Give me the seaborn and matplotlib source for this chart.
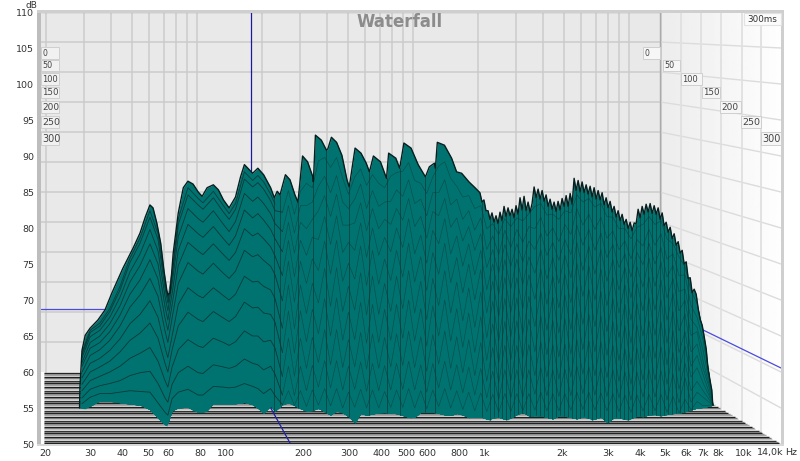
import numpy as np
import seaborn as sns
import matplotlib
matplotlib.use("Agg")
import matplotlib.pyplot as plt
from matplotlib.patches import Polygon, Rectangle

# --- values (Hz on the bottom axis, dB on the left axis) ---
db_ticks = [50, 55, 60, 65, 70, 75, 80, 85, 90, 95, 100, 105, 110]
freq_ticks = [20, 30, 40, 50, 60, 80, 100, 200, 300, 400, 500, 600, 800, 1000,
              2000, 3000, 4000, 5000, 6000, 7000, 8000, 10000]
freq_labels = ["20", "30", "40", "50", "60", "80", "100", "200", "300", "400", "500", "600", "800", "1k",
               "2k", "3k", "4k", "5k", "6k", "7k", "8k", "10k"]
grid_freqs = [20, 30, 40, 50, 60, 70, 80, 90, 100, 200, 300, 400, 500, 600, 700, 800, 900,
              1000, 2000, 3000, 4000, 5000, 6000, 7000, 8000, 9000, 10000, 14000]
time_labels = ["0", "50", "100", "150", "200", "250", "300"]

# outline of the first slice, the one that makes the top edge
top_freq = [27.2, 27.3, 27.5, 27.8, 28.6, 29.9, 32.0, 34.1, 36.3, 40, 43.8, 46.6, 48.8, 50.9, 52.3, 54.1, 56.0,
            57.6, 59.1, 59.7, 60.9, 62.6, 65.5, 68.5, 71.4, 74.7, 78.2, 81.0, 84.7, 89.5, 93.6, 97.9, 103, 109,
            114, 118, 122.5, 127, 133, 140, 149, 154, 158, 162, 170, 177, 185, 190, 198, 207, 217, 218, 222, 234,
            245, 248, 256, 268, 281, 294, 300, 316, 333, 349, 359, 372, 396, 418, 426, 454, 470, 488, 520, 554,
            591, 612, 640, 646, 657, 700, 746, 780, 816, 871, 919,
            960, 978, 995, 1013, 1032, 1050, 1069, 1088, 1108, 1128, 1148, 1169, 1190, 1211, 1233, 1255, 1278,
            1301, 1324, 1348, 1372, 1397, 1422, 1448, 1474, 1500, 1527, 1555, 1583, 1611, 1640, 1670, 1700, 1730,
            1761, 1793, 1825, 1858, 1891, 1925, 1960, 1995, 2031, 2068, 2105, 2143, 2181, 2220, 2260, 2301, 2342,
            2384, 2427, 2471, 2515, 2560, 2606, 2653, 2701, 2749, 2799, 2849, 2900, 2952, 3005, 3059, 3114, 3170,
            3227, 3285, 3344, 3404, 3465, 3528, 3591, 3656, 3721, 3788, 3856, 3925, 3996, 4068, 4141, 4215, 4291,
            4368, 4447, 4527, 4608, 4691, 4775, 4861, 4948, 5037, 5128, 5220, 5314, 5409, 5507, 5606, 5706, 5809,
            5913, 6020, 6128, 6238, 6350, 6464, 6580, 6699, 6819, 6942, 7067, 7194, 7300, 7430, 7560, 7630]
top_db = [55, 58, 60, 63, 65.1, 66.1, 67.2, 68.6, 71, 74.4, 77.2, 79.3, 81.5, 83.2, 82.8, 80.7, 77.9,
          74.2, 71.4, 70.7, 71, 76.5, 82.1, 85.6, 86.5, 86.1, 85, 84.4, 85.6, 86, 85.3, 83.9, 82.8, 84.3,
          87.1, 88.8, 88.2, 87.6, 88.3, 87.4, 85.6, 84.2, 85.1, 84.6, 87.4, 86.7, 84.6, 83.6, 90, 89.2, 87.1, 86.4, 92.9, 92.2,
          90.8, 91, 92.6, 91.9, 90.1, 86.7, 85.7, 91.1, 90.4, 89, 87.8, 90, 89.2, 86.9, 90.4, 89.7, 88.3, 91.8, 91.1, 88.8,
          87.1, 88.5, 89, 88.3, 91.9, 91.5, 89.7, 87.8, 87.6, 86.4, 85.6,
          84.9, 83.6, 83.9, 82.4, 82.4, 81.2, 82.1, 80.8, 81.7, 80.6, 82.2, 81, 83, 81.6, 82.8, 81.7, 82.6,
          81.4, 83.1, 81.9, 84.2, 82.5, 84.4, 82.4, 83.6, 82.2, 83.4, 85.7, 84.2, 85.4, 84, 85.2, 83.7, 84.6,
          83, 84, 82.6, 83.6, 82.3, 83.7, 82.5, 84.1, 83, 84.5, 83, 84.8, 83.3, 86.9, 85.2, 86.6, 85,
          86.4, 84.9, 86, 84.7, 85.8, 84.3, 85.6, 84, 85.2, 83.9, 84.9, 83.2, 84.2, 82.8, 83.7, 82.2, 83,
          81.5, 82.4, 81, 81.9, 80.5, 81.2, 79.9, 80.8, 79.6, 80.7, 80.6, 82.6, 81.4, 83, 81.9, 83.3,
          82.2, 83.4, 82, 83.1, 81.9, 82.8, 81.2, 82.1, 80.3, 80.8, 79.4, 80.1, 78.5, 79.2, 77.6, 78.1, 76.5,
          76.9, 75, 75.3, 73, 73.1, 71, 71.5, 70.8, 68.8, 67.3, 66.5, 64.9, 63.2, 60.7, 59, 57.5, 55.4]

# front edge where the last slice meets the floor
bottom_freq = [27.3, 28.1, 29.3, 30.6, 33.2, 37.9, 41.4, 49.4, 52.3, 57, 59.1, 61.5, 62.6, 71.4, 76.4, 84, 89.5, 111,
               119, 128.5, 140, 149, 153, 160, 177, 188, 211, 225, 253, 271, 294, 316, 320, 350, 396, 447, 532, 552,
               640, 729, 790, 879, 960, 1050, 1098, 1222, 1312, 1410, 1500, 1597, 1840, 1960, 2280, 2450, 2600, 2800,
               3000, 3190, 3590, 3820, 4100, 4450, 4760, 5210, 5700, 6240, 6620, 7115, 7640]
bottom_db = [55, 54.9, 54.9, 55.7, 56.1, 55.8, 55.6, 55.3, 54.3, 52.9, 52.5, 54.3, 55, 55.1, 54.4, 54.4, 55.6, 55.6,
             55.8, 55.4, 54.3, 55.3, 54.3, 55.3, 55.8, 55.1, 54.4, 55.1, 54, 54.7, 54, 52.9, 54.4, 54, 54.4, 54.3, 53.5, 54.4,
             54.4, 53.9, 54.3, 53.6, 53.8, 53.3, 53.9, 53.3, 54, 54.4, 53.8, 54, 53.5, 54, 53.5, 53.9, 53.3, 53.8,
             52.9, 53.8, 53.3, 53.9, 53.8, 54.2, 53.9, 54.2, 54.3, 54.7, 55, 55.1, 55.4]

# later slices, back to front: smooth low end, jagged from 165 Hz up
slice_freq = [27.8, 29.9, 32.6, 35.6, 39, 42.6, 46.6, 50.9, 54.7, 58.2, 59.7, 62, 65.5, 71.4, 78.2, 81.6, 89.5, 97.9,
              103, 109, 118, 127, 133, 140, 149, 155,
              165.5, 174.6, 184.2, 194.3, 205, 216, 228, 241, 254, 268,
              283, 298, 315, 332, 350, 369, 390, 411, 434, 457,
              483, 509, 537, 567, 598, 631, 665, 702, 740, 781,
              824, 869, 917, 967, 1020, 1076, 1135, 1198, 1264, 1333,
              1406, 1484, 1565, 1651, 1742, 1837, 1938, 2045, 2157, 2275,
              2400, 2532, 2671, 2818, 2973, 3136, 3309, 3490, 3682, 3884,
              4098, 4323, 4560, 4811, 5075, 5354, 5648, 5958, 6286, 6631,
              6996, 7380, 7640]
slice_1 = [62.5, 65.5, 66.4, 68.4, 71.4, 75.2, 77.9, 81.5, 78.4, 71.7, 69.6, 73.5, 80.5, 84.6, 83.2, 82.6, 84.2, 82.2, 81.2, 82.6,
           86.8, 85.7, 86.3, 85.4, 83.8, 82.4,
           82.2, 85.2, 81.9, 85.1, 86.2, 85.6, 89.3, 89.8, 88.4, 89.8,
           86.9, 84.7, 87.1, 88.2, 85.9, 87.4, 86.2, 85.6, 87.2, 87.7,
           87.9, 89.1, 86.6, 86.2, 84.8, 87.1, 88.6, 89.2, 86.9, 85.8,
           84.3, 84.5, 82.7, 83.1, 79.9, 80.6, 79.1, 81.3, 80.2, 81.4,
           81, 82, 83, 83.4, 81.8, 81.9, 81.2, 82.4, 82.1, 84.6,
           83.6, 84.1, 82.9, 83.4, 81.6, 81.5, 79.9, 79.9, 78.5, 80.1,
           80.5, 81.6, 80.5, 81, 78.5, 77.8, 76, 74.6, 71.3, 69.5,
           65.6, 60.2, 55.4]
slice_2 = [62, 64.9, 65.8, 67.6, 70.4, 73.9, 76.4, 79.8, 76.8, 70.5, 68.5, 72.3, 78.8, 82.7, 81.3, 80.8, 82.4, 80.5, 79.5, 80.9,
           84.8, 83.7, 84.3, 83.4, 82, 80.6,
           79.5, 83.1, 79.3, 83.1, 83.1, 83.6, 85.8, 87.2, 84.9, 87.3,
           83.6, 82.7, 84, 86.1, 82.7, 85.2, 83, 83.6, 83.7, 85.3,
           84.4, 86.7, 83.4, 84, 81.7, 84.9, 84.9, 86.7, 83.2, 84,
           81.2, 82.4, 79.7, 81.4, 77, 78.9, 76.3, 79.7, 77.3, 79.8,
           78, 80.2, 79.9, 81.5, 78.9, 80, 78.1, 80.5, 79.1, 82.7,
           80.4, 81.9, 79.8, 81.5, 78.6, 79.6, 77, 78.2, 75.7, 78.4,
           77.5, 79.8, 77.6, 79.2, 75.7, 76.4, 73.4, 73.5, 69.2, 67.6,
           64.5, 59.8, 55.4]
slice_3 = [61.3, 64.1, 65, 66.7, 69.2, 72.5, 74.8, 77.8, 75, 69.1, 67.2, 70.9, 76.9, 80.5, 79.2, 78.7, 80.2, 78.5, 77.6, 78.9,
           82.5, 81.4, 82, 81.1, 79.8, 78.5,
           76.7, 80.8, 76.5, 80.8, 79.9, 81.2, 82.4, 84.5, 81.6, 84.7,
           80.4, 80.4, 80.7, 83.5, 79.6, 82.7, 79.9, 81.2, 80.5, 82.7,
           81.1, 84.1, 80.2, 81.6, 78.6, 82.3, 81.7, 84.1, 80.1, 81.4,
           78.2, 80.2, 76.9, 79.2, 74.5, 77, 73.8, 77.7, 74.7, 77.8,
           75.3, 78.2, 77, 79.3, 76.2, 78, 75.5, 78.4, 76.3, 80.4,
           77.6, 79.8, 76.9, 79.3, 75.9, 77.7, 74.5, 76.4, 73.2, 76.6,
           74.9, 77.9, 75, 77.3, 73.2, 74.8, 71.2, 71.5, 67.3, 66.2,
           63, 58.9, 55.4]
slice_4 = [60.8, 63.3, 64.1, 65.6, 67.9, 70.8, 72.8, 75.6, 72.9, 67.5, 65.8, 69.3, 74.8, 78, 76.8, 76.3, 77.8, 76.3, 75.5, 76.6,
           79.9, 78.9, 79.3, 78.5, 77.4, 76.1,
           73.4, 78.3, 73.2, 78.3, 76.2, 78.7, 78.4, 81.6, 77.7, 81.7,
           76.6, 78, 76.9, 80.7, 75.9, 80, 76.2, 78.7, 76.7, 80,
           77.3, 81.3, 76.4, 79, 75.1, 79.7, 77.8, 81.3, 76.4, 78.9,
           74.7, 77.8, 73.5, 76.9, 71.4, 75, 70.8, 75.6, 71.6, 75.7,
           72.2, 76, 73.7, 77, 72.9, 75.9, 72.3, 76.2, 73.1, 78,
           74.1, 77.5, 73.6, 77, 72.6, 75.6, 71.4, 74.5, 70.3, 74.6,
           71.8, 75.8, 71.9, 75.3, 70.3, 73, 68.5, 70, 65.1, 65.6,
           61.5, 58.3, 55.4]
slice_5 = [60, 62.3, 63.1, 64.4, 66.4, 69, 70.7, 73, 70.5, 65.7, 64.1, 67.5, 72.3, 75.2, 74, 73.6, 75.1, 73.7, 73, 74,
           76.9, 76, 76.3, 75.5, 74.7, 73.5,
           69.9, 75.4, 69.7, 75.4, 72.3, 75.7, 74.1, 78.2, 73.6, 78.3,
           72.6, 75.1, 72.9, 77.5, 72, 76.9, 72.2, 75.7, 72.7, 76.9,
           73.2, 77.9, 72.5, 76, 71.3, 76.6, 73.6, 77.9, 72.4, 75.9,
           71, 75, 70, 74.2, 68.2, 72.6, 67.7, 73.1, 68.3, 73.1,
           68.8, 73.5, 70.1, 74.3, 69.4, 73.3, 68.9, 73.6, 69.6, 75.1,
           70.5, 74.7, 70, 74.3, 69.2, 73.1, 68.2, 72.1, 67.2, 72.3,
           68.5, 73.2, 68.6, 72.8, 67.2, 70.9, 65.7, 68.1, 62.8, 63.9,
           60.5, 57.9, 55.4]
slice_6 = [59.2, 61.2, 61.9, 63, 64.6, 66.7, 68, 69.9, 67.6, 63.4, 62, 65, 69.4, 71.7, 70.6, 70.3, 71.7, 70.6, 70, 70.8,
           73.3, 72.5, 72.6, 71.9, 71.4, 70.2,
           66.1, 72.1, 66, 72.1, 68.1, 72.3, 69.6, 74.4, 69.1, 74.5,
           68.4, 71.9, 68.6, 73.8, 67.9, 73.3, 68, 72.3, 68.4, 73.3,
           68.8, 74.1, 68.2, 72.6, 67.3, 73, 69.2, 74.1, 68.2, 72.5,
           67.1, 71.7, 66.2, 71.1, 64.7, 69.8, 64.3, 70.2, 64.9, 70.3,
           65.3, 70.5, 66.3, 71.2, 65.8, 70.4, 65.4, 70.7, 65.9, 71.9,
           66.6, 71.5, 66.3, 71.2, 65.6, 70.2, 64.8, 69.4, 64, 69.5,
           65, 70.3, 65.1, 70, 64, 68.4, 62.7, 65.6, 60.8, 62.3,
           59.6, 57.2, 55.4]
slice_7 = [58.3, 60, 60.7, 61.5, 62.8, 64.4, 65.4, 66.8, 64.7, 61.2, 60, 63.1, 66.4, 68.3, 67.3, 67, 68.4, 67.5, 67, 67.7,
           69.7, 68.9, 69, 68.2, 68, 66.9,
           62.7, 68.5, 62.6, 68.5, 64.2, 68.7, 65.3, 70.2, 65, 70.3,
           64.4, 68.3, 64.5, 69.7, 64, 69.4, 64.1, 68.7, 64.4, 69.4,
           64.7, 70, 64.3, 68.8, 63.6, 69.2, 65, 70, 64.3, 68.8,
           63.4, 68.2, 62.7, 67.7, 61.6, 66.7, 61.3, 67, 61.7, 67.1,
           62, 67.3, 62.8, 67.8, 62.4, 67.2, 62.1, 67.4, 62.5, 68.3,
           63.1, 68, 62.8, 67.8, 62.3, 67, 61.6, 66.4, 61, 66.5,
           61.8, 67.1, 61.9, 66.9, 61, 65.7, 60.1, 63.6, 59.3, 60.6,
           58.5, 56.7, 55.4]
slice_8 = [57.4, 58.8, 59.4, 60, 60.8, 61.9, 62.6, 63.4, 61.5, 58.8, 57.9, 60.7, 63.1, 64.5, 63.6, 63.4, 64.7, 64.1, 63.7, 64.2,
           65.7, 65, 65, 64.2, 64.4, 63.3,
           59.4, 64.7, 59.4, 64.7, 60.5, 64.8, 61.3, 65.9, 61, 65.9,
           60.6, 64.5, 60.7, 65.5, 60.4, 65.3, 60.5, 64.8, 60.7, 65.3,
           60.9, 65.7, 60.6, 64.9, 60.1, 65.2, 61.1, 65.7, 60.5, 64.9,
           59.9, 64.5, 59.5, 64.1, 58.7, 63.4, 58.5, 63.7, 58.8, 63.7,
           59, 63.8, 59.5, 64.2, 59.3, 63.8, 59, 63.9, 59.3, 64.5,
           59.7, 64.3, 59.5, 64.2, 59.2, 63.7, 58.7, 63.2, 58.3, 63.3,
           58.9, 63.7, 58.9, 63.5, 58.3, 62.7, 57.6, 61.2, 57.4, 58.7,
           57.4, 56.2, 55.4]
slice_9 = [56.4, 57.6, 58.1, 58.4, 58.8, 59.5, 59.9, 60.1, 58.4, 56.4, 55.8, 58.3, 59.9, 60.8, 59.9, 59.8, 61, 60.7, 60.5, 60.8,
           61.8, 61.2, 61, 60.3, 60.8, 59.7,
           56.8, 60.8, 56.7, 60.8, 57.4, 60.9, 57.9, 61.6, 57.8, 61.6,
           57.5, 60.8, 57.6, 61.4, 57.3, 61.2, 57.4, 60.9, 57.5, 61.2,
           57.6, 61.5, 57.5, 61, 57.2, 61.2, 57.8, 61.5, 57.5, 61,
           57.1, 60.7, 56.8, 60.5, 56.4, 60.1, 56.2, 60.3, 56.4, 60.3,
           56.5, 60.3, 56.9, 60.6, 56.7, 60.3, 56.6, 60.4, 56.7, 60.8,
           57, 60.7, 56.8, 60.6, 56.6, 60.3, 56.4, 60, 56.1, 60,
           56.5, 60.3, 56.5, 60.2, 56.1, 59.7, 55.7, 59.2, 55.8, 57.2,
           56.5, 55.8, 55.4]
slice_10 = [55.6, 56.5, 57, 57, 57.2, 57.4, 57.3, 57.2, 55.7, 54.4, 54, 56.3, 57.2, 57.6, 56.8, 56.8, 58, 57.9, 57.8, 57.9,
            58.4, 58, 57.7, 57, 57.7, 56.7,
            54.9, 57.4, 54.8, 57.4, 55.2, 57.5, 55.4, 57.7, 55.3, 57.7,
            55, 57.2, 55.1, 57.6, 55, 57.5, 55, 57.3, 55.1, 57.5,
            55.1, 57.7, 55, 57.4, 54.9, 57.5, 55.2, 57.7, 55, 57.4,
            54.8, 57.2, 54.6, 57.1, 54.5, 56.9, 54.4, 57, 54.5, 57,
            54.6, 57, 54.7, 57.2, 54.6, 57, 54.6, 57, 54.7, 57.2,
            54.8, 57.2, 54.7, 57.1, 54.6, 57, 54.5, 56.8, 54.4, 56.8,
            54.6, 56.9, 54.6, 56.9, 54.4, 56.6, 54.3, 56.2, 54.4, 55.9,
            55.3, 55.4, 55.4]
later_slices = [slice_1, slice_2, slice_3, slice_4, slice_5, slice_6, slice_7, slice_8, slice_9, slice_10]

# the crowded lines just under the top edge, low end only
crowd_1 = [62.8, 65.8, 66.8, 68.8, 71.9, 75.8, 78.6, 82.4, 79.2, 72.3, 70.2, 74.1, 81.3, 85.6, 84.1, 83.5, 85.1, 83.1, 82, 83.4,
           87.8, 86.6, 87.3, 86.4, 84.7, 83.3]
crowd_2 = [62.3, 65.2, 66.1, 68, 70.9, 74.5, 77.1, 80.7, 77.6, 71.1, 69, 72.9, 79.7, 83.7, 82.2, 81.7, 83.3, 81.4, 80.4, 81.7,
           85.8, 84.7, 85.3, 84.4, 82.9, 81.5]
crowd_3 = [61.7, 64.5, 65.4, 67.2, 69.8, 73.2, 75.6, 78.8, 75.9, 69.8, 67.9, 71.6, 77.9, 81.6, 80.3, 79.7, 81.3, 79.5, 78.6, 79.9,
           83.7, 82.6, 83.1, 82.3, 80.9, 79.6]

TEAL = "#007370"
LINE = "#0a2f2e"
LOW_END = 26  # points of slice_freq on the smooth low part
W, H = 800, 461

sns.set_theme(style="white")
plt.rcParams["font.family"] = ["DejaVu Sans"]
fig = plt.figure(figsize=(W / 100, H / 100), dpi=100, facecolor="white")

# room drawn in figure pixels: back wall, side wall, floor
room = fig.add_axes([0, 0, 1, 1], zorder=0)
room.set_xlim(0, W)
room.set_ylim(H, 0)
room.axis("off")


def back_x(f):
    return 46 + 216 * np.log10(f / 20)


def back_y(db):
    return 12 + (110 - db) * 6


def front_y(db):
    return 12 + (110 - db) * 7.2


room.fill_between([41, 660], 12, 372, color="#e9e9e9", lw=0, zorder=1)
side = room.imshow(np.linspace(0.925, 0.995, 64).reshape(1, -1), cmap="gray", vmin=0, vmax=1,
                   extent=[660, 781, 444, 12], aspect="auto", zorder=1)
side.set_clip_path(Polygon([(660, 12), (781, 12), (781, 444), (660, 372)], transform=room.transData))
room.set_xlim(0, W)
room.set_ylim(H, 0)

grid = "#cbcbcb"
for f in grid_freqs:
    room.plot([back_x(f)] * 2, [12, 372], color=grid, lw=1.1, zorder=2)
for db in range(55, 110, 5):
    room.plot([41, 660], [back_y(db)] * 2, color=grid, lw=1.1, zorder=2)
    room.plot([660, 781], [back_y(db), front_y(db)], color="#dcdcdc", lw=1.0, zorder=2)
for x in [681, 701, 721, 742, 761]:
    room.plot([x, x], [12, 372 + (x - 660) * 0.59], color="#e0e0e0", lw=1.3, zorder=2)
room.plot([660, 660], [12, 372], color="#aaaaaa", lw=1, zorder=2)
room.plot([41, 660], [12, 12], color="#aaaaaa", lw=1, zorder=2)

# cursor lines
room.plot([251, 251], [12, 372], color="#1a1a9a", lw=0.9, zorder=3)
room.plot([41, 660], [309, 309], color="#4a4ae0", lw=0.9, zorder=3)
room.plot([660, 781], [309, 368], color="#4a4ae0", lw=0.9, zorder=3)

# floor stripes
stripe_colours = ["#0a0a0a", "#8f8f8f", "#8f8f8f", "#f8f8f8", "#0a0a0a", "#6f6f6f", "#b5b5b5", "#ffffff", "#1a1a1a", "#9a9a9a"]
for i, y in enumerate(range(372, 444)):
    room.plot([44, 660 + (y - 372) * 121 / 71], [y + 0.5, y + 0.5], color=stripe_colours[i % 10], lw=1.0,
              solid_capstyle="butt", zorder=3)
room.plot([251, 290], [372, 443], color="#2020a0", lw=0.9, zorder=4)

# frame
for (x0, x1, y0, y1, c) in [(37, 41, 10, 446, "#bdbdbd"), (37, 784, 10, 13, "#cfcfcf"),
                            (781, 784, 10, 446, "#cfcfcf"), (37, 784, 443.5, 446, "#d8d8d8")]:
    room.fill_between([x0, x1], y0, y1, color=c, lw=0, zorder=5)

# data axes, same scales as the tick labels
ax = fig.add_axes([45 / W, (H - 444) / H, 736 / W, 432 / H], zorder=2)
ax.patch.set_alpha(0)
ax.set_xscale("log")

top_f = np.array(top_freq)
top_v = np.array(top_db)
bot_f = np.array(bottom_freq)
bot_v = np.array(bottom_db)

ax.fill_between(top_f, top_v, np.interp(top_f, bot_f, bot_v), color=TEAL, lw=0, zorder=3)

sl_f = np.array(slice_freq)
for s in [crowd_1, crowd_2, crowd_3]:
    sns.lineplot(x=sl_f[:LOW_END], y=s, ax=ax, color=LINE, lw=0.6, alpha=0.8, estimator=None, sort=False, zorder=3.5)

for n, s in enumerate(later_slices):
    s = np.minimum(np.array(s), np.interp(sl_f, top_f, top_v))
    floor = np.interp(sl_f, bot_f, bot_v)
    s = np.maximum(s, floor)
    ax.fill_between(sl_f, s, floor, color=TEAL, lw=0, zorder=4 + n)
    sns.lineplot(x=sl_f[:LOW_END + 1], y=s[:LOW_END + 1], ax=ax, color=LINE, lw=0.6, alpha=0.85,
                 estimator=None, sort=False, zorder=4 + n)
    sns.lineplot(x=sl_f[LOW_END:], y=s[LOW_END:], ax=ax, color=LINE, lw=0.45, alpha=0.55,
                 estimator=None, sort=False, zorder=4 + n)

# dark folds running down from the notches of the top edge
notch = (top_v[1:-1] < top_v[:-2]) & (top_v[1:-1] < top_v[2:]) & (top_f[1:-1] > 140)
nf = top_f[1:-1][notch]
ax.vlines(nf, np.interp(nf, bot_f, bot_v), top_v[1:-1][notch], color=LINE, lw=0.6, alpha=0.7, zorder=20)
sns.lineplot(x=top_f, y=top_v, ax=ax, color="#061f1e", lw=1.0, estimator=None, sort=False, zorder=21)

ax.set_xlim(20, 14000)
ax.set_ylim(50, 110)
ax.set_xticks(freq_ticks, freq_labels)
ax.minorticks_off()
ax.set_yticks(db_ticks)
ax.tick_params(axis="x", length=0, pad=3.5, labelsize=6.8, colors="#333333")
ax.tick_params(axis="y", length=0, pad=8, labelsize=6.8, colors="#333333")
ax.set_xlabel("")
ax.set_ylabel("")
sns.despine(ax=ax, left=True, bottom=True)

# texts on top of everything
over = fig.add_axes([0, 0, 1, 1], zorder=3)
over.set_xlim(0, W)
over.set_ylim(H, 0)
over.axis("off")
over.text(400, 22, "Waterfall", ha="center", va="center", fontsize=12, fontweight="bold", color="#8c8c8c")
over.text(31, 5, "dB", ha="center", va="center", fontsize=6.5, color="#333333")
over.text(770, 452, "14,0k", ha="center", va="center", fontsize=6.8, color="#333333")
over.text(791, 452, "Hz", ha="center", va="center", fontsize=6.8, color="#333333")
over.add_patch(Rectangle((744, 13), 37, 12, fc="#fbfbfb", ec="#e2e2e2", lw=0.8))
over.text(762.5, 19, "300ms", ha="center", va="center", fontsize=6.3, color="#333333")

box_top = [47, 60, 73, 87, 101, 116, 132]
box_h = [12, 11, 12, 11, 12, 12, 13]
right_x = [643, 663, 681, 702, 720, 741, 761]
right_w = [17, 17, 21, 18, 21, 20, 20]
sizes = [5.6, 5.8, 6.0, 6.2, 6.5, 6.8, 7.0]
for lab, y, h, x, w, fs in zip(time_labels, box_top, box_h, right_x, right_w, sizes):
    for bx, bw, fc in [(41, 18, "#f1f1f1"), (x, w, "#f6f6f6")]:
        over.add_patch(Rectangle((bx, y), bw, h, fc=fc, ec="#cfcfcf", lw=0.7))
        over.text(bx + 1.5, y + h / 2, lab, ha="left", va="center", fontsize=fs, color="#444444")

fig.savefig("out.png", dpi=100)
